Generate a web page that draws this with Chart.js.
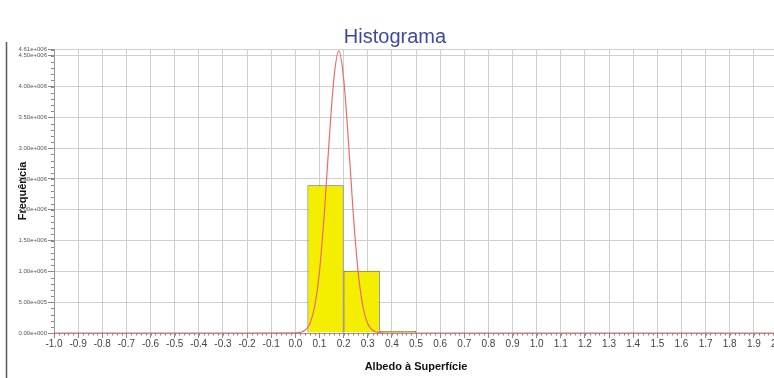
<!DOCTYPE html>
<html>
<head>
<meta charset="utf-8">
<script src="https://cdn.jsdelivr.net/npm/chart.js@4/dist/chart.umd.min.js"></script>
<style>
  html, body { margin: 0; padding: 0; background: #fff; overflow: hidden; width: 774px; height: 378px; }
  #wrap { position: relative; width: 790px; height: 378px; }
</style>
</head>
<body>
<div id="wrap"><canvas id="c" width="790" height="378"></canvas></div>
<script>
// Histogram bins (centre of each 0.15-wide class) and their counts
const binCenters = [0.125, 0.275, 0.425];
const binCounts  = [2400000, 1010000, 8000];

// Fitted normal curve, sampled along the albedo axis
const curveX = [-1.0, -0.2, 0.0, 0.02, 0.04, 0.06, 0.08, 0.10, 0.12, 0.14, 0.16, 0.18,
                0.20, 0.22, 0.24, 0.26, 0.28, 0.30, 0.32, 0.34, 0.36, 0.40, 2.0];
const curveY = [0, 0, 3000, 10000, 45000, 150000, 430000, 1000000, 1940000, 3120000, 4140000, 4580000,
                4140000, 3120000, 1940000, 1000000, 430000, 150000, 45000, 10000, 3000, 0, 0];

// Axis ticks
const xTickValues = [-1.0, -0.9, -0.8, -0.7, -0.6, -0.5, -0.4, -0.3, -0.2, -0.1, 0.0,
                     0.1, 0.2, 0.3, 0.4, 0.5, 0.6, 0.7, 0.8, 0.9, 1.0,
                     1.1, 1.2, 1.3, 1.4, 1.5, 1.6, 1.7, 1.8, 1.9, 2.0];
const yTickValues = [0, 500000, 1000000, 1500000, 2000000, 2500000, 3000000,
                     3500000, 4000000, 4500000, 4610000];
const xMinorStep = 0.02;
const yMinorStep = 100000;

function sciLabel(v) {
  const [m, e] = Number(v).toExponential(2).split('e');
  const sign = e[0];
  const digits = e.slice(1).padStart(3, '0');
  return m + 'e' + sign + digits;
}

const FONT = "Arial, 'Liberation Sans', sans-serif";

// Frame line on the left and minor tick marks on both axes
const decorations = {
  id: 'decorations',
  afterDraw(chart) {
    const ctx = chart.ctx;
    const xs = chart.scales.x, ys = chart.scales.y;
    const area = chart.chartArea;
    ctx.save();
    ctx.strokeStyle = '#5a5a5a';
    ctx.lineWidth = 1.5;
    ctx.beginPath();
    ctx.moveTo(6.5, 42);
    ctx.lineTo(6.5, 378);
    ctx.stroke();

    ctx.lineWidth = 1;
    ctx.strokeStyle = '#b07070';
    for (let v = xs.min; v <= xs.max + 1e-9; v += xMinorStep) {
      const px = Math.round(xs.getPixelForValue(v)) + 0.5;
      ctx.beginPath();
      ctx.moveTo(px, area.bottom);
      ctx.lineTo(px, area.bottom + 2.5);
      ctx.stroke();
    }
    ctx.strokeStyle = '#8a8a8a';
    for (let v = ys.min; v <= ys.max; v += yMinorStep) {
      const py = Math.round(ys.getPixelForValue(v)) + 0.5;
      ctx.beginPath();
      ctx.moveTo(area.left - 3, py);
      ctx.lineTo(area.left, py);
      ctx.stroke();
    }
    ctx.restore();
  }
};

new Chart(document.getElementById('c'), {
  data: {
    datasets: [
      {
        type: 'line',
        label: 'Normal',
        data: curveX.map((x, i) => ({ x: x, y: curveY[i] })),
        borderColor: '#ee6a6a',
        borderWidth: 1.2,
        pointRadius: 0,
        fill: false,
        cubicInterpolationMode: 'monotone',
        order: 0
      },
      {
        type: 'bar',
        label: 'Frequência',
        data: binCenters.map((x, i) => ({ x: x, y: binCounts[i] })),
        backgroundColor: '#f4ee00',
        borderColor: '#6a6528',
        borderWidth: 1,
        // bins are 0.15 wide while the tick spacing is 0.1
        barPercentage: 1.5,
        categoryPercentage: 1.0,
        minBarLength: 2,
        order: 1
      }
    ]
  },
  options: {
    responsive: false,
    animation: false,
    layout: { padding: { left: 12, right: 12, top: 0, bottom: 0 } },
    plugins: {
      legend: { display: false },
      tooltip: { enabled: false },
      title: {
        display: true,
        text: 'Histograma',
        color: '#3b4aa0',
        font: { family: FONT, size: 20, weight: 'normal', lineHeight: 1.2 },
        padding: { top: 25, bottom: 0 }
      }
    },
    scales: {
      x: {
        type: 'linear',
        offset: false,
        min: -1.0,
        max: 2.0,
        afterBuildTicks: (s) => { s.ticks = xTickValues.map(v => ({ value: v })); },
        afterFit: (s) => { s.height = 45; },
        ticks: {
          autoSkip: false,
          maxRotation: 0,
          minRotation: 0,
          color: '#444',
          font: { family: FONT, size: 10 },
          padding: 0,
          callback: (v) => Number(v).toFixed(1)
        },
        grid: { offset: false, color: '#cfcfcf', tickColor: '#8a8a8a', tickLength: 5, drawTicks: true },
        border: { color: '#9a9a9a' },
        title: {
          display: true,
          text: 'Albedo à Superfície',
          color: '#111',
          font: { family: FONT, size: 11, weight: 'bold' },
          padding: { top: 4, bottom: 4 }
        }
      },
      y: {
        type: 'linear',
        min: 0,
        max: 4610000,
        afterBuildTicks: (s) => { s.ticks = yTickValues.map(v => ({ value: v })); },
        afterFit: (s) => { s.width = 42; },
        ticks: {
          autoSkip: false,
          color: '#555',
          font: { family: FONT, size: 6 },
          padding: 1,
          callback: (v) => sciLabel(v)
        },
        grid: { color: '#cfcfcf', tickColor: '#8a8a8a', tickLength: 6, drawTicks: true },
        border: { color: '#9a9a9a' },
        title: {
          display: true,
          text: 'Frequência',
          color: '#111',
          font: { family: FONT, size: 11, weight: 'bold' },
          padding: { top: 4, bottom: 0 }
        }
      }
    }
  },
  plugins: [decorations]
});
</script>
</body>
</html>
